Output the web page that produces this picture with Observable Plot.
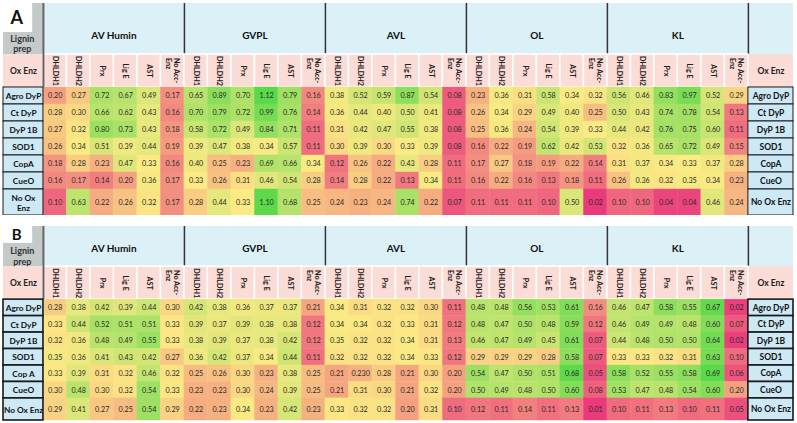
<!DOCTYPE html>
<html><head><meta charset="utf-8">
<script src="https://cdn.jsdelivr.net/npm/d3@7"></script>
<script src="https://cdn.jsdelivr.net/npm/@observablehq/plot@0.6"></script>
<style>
body{margin:0;background:#fff;font-family:Lato,sans-serif;}
#chart svg{display:block;}
</style></head><body><div id="chart"></div>
<script>
// ---------- data ----------
const lignins = ["AV Humin", "GVPL", "AVL", "OL", "KL"];
const accEnzymes = ["DHLDH1", "DHLDH2", "Prx", "Lig E", "AST", "No Acc-\nEnz"];
const oxEnzA = ["Agro DyP", "Ct DyP", "DyP 1B", "SOD1", "CopA", "CueO", "No Ox\nEnz"];
const oxEnzARight = ["Agro DyP", "Ct DyP", "DyP 1B", "SOD1", "CopA", "CueO", "No Ox Enz"];
const oxEnzB = ["Agro DyP", "Ct DyP", "DyP 1B", "SOD1", "Cop A", "CueO", "No Ox Enz"];
const oxEnzBRight = ["Agro DyP", "Ct DyP", "DyP 1B", "SOD1", "CopA", "CueO", "No Ox Enz"];

// Panel A (AV Humin | GVPL | AVL | OL | KL), 6 accessory columns each
const A_AgroDyP = [0.20,0.27,0.72,0.67,0.49,0.17, 0.65,0.89,0.70,1.12,0.79,0.16, 0.38,0.52,0.59,0.87,0.54,0.08, 0.23,0.36,0.31,0.58,0.34,0.32, 0.56,0.46,0.83,0.97,0.52,0.29];
const A_CtDyP   = [0.28,0.30,0.66,0.62,0.43,0.16, 0.70,0.79,0.72,0.99,0.76,0.14, 0.36,0.44,0.40,0.50,0.41,0.08, 0.26,0.34,0.29,0.49,0.40,0.25, 0.50,0.43,0.74,0.78,0.54,0.13];
const A_DyP1B   = [0.27,0.32,0.80,0.73,0.43,0.18, 0.58,0.72,0.49,0.84,0.71,0.11, 0.31,0.42,0.47,0.55,0.38,0.08, 0.25,0.36,0.24,0.54,0.39,0.33, 0.44,0.42,0.76,0.75,0.60,0.11];
const A_SOD1    = [0.26,0.34,0.51,0.39,0.44,0.19, 0.39,0.47,0.38,0.34,0.57,0.11, 0.30,0.39,0.30,0.33,0.39,0.08, 0.16,0.22,0.19,0.62,0.42,0.53, 0.32,0.36,0.65,0.72,0.49,0.15];
const A_CopA    = [0.18,0.28,0.23,0.47,0.33,0.16, 0.40,0.25,0.23,0.69,0.66,0.34, 0.12,0.26,0.22,0.43,0.28,0.11, 0.17,0.27,0.18,0.19,0.22,0.14, 0.31,0.37,0.34,0.33,0.37,0.28];
const A_CueO    = [0.16,0.17,0.14,0.20,0.36,0.17, 0.33,0.26,0.31,0.46,0.54,0.28, 0.14,0.28,0.22,0.13,0.34,0.11, 0.16,0.22,0.16,0.13,0.18,0.11, 0.26,0.36,0.32,0.35,0.34,0.23];
const A_NoOxEnz = [0.10,0.63,0.22,0.26,0.32,0.17, 0.28,0.44,0.33,1.10,0.68,0.25, 0.24,0.23,0.24,0.74,0.22,0.07, 0.11,0.11,0.11,0.10,0.50,0.02, 0.10,0.10,0.04,0.04,0.46,0.24];

// Panel B
const B_AgroDyP = [0.28,0.38,0.42,0.39,0.44,0.30, 0.42,0.38,0.36,0.37,0.37,0.21, 0.34,0.31,0.32,0.32,0.30,0.11, 0.48,0.48,0.56,0.53,0.61,0.16, 0.46,0.47,0.58,0.55,0.67,0.02];
const B_CtDyP   = [0.33,0.44,0.52,0.51,0.51,0.33, 0.39,0.37,0.39,0.38,0.38,0.12, 0.34,0.34,0.32,0.33,0.31,0.12, 0.48,0.47,0.50,0.48,0.59,0.12, 0.46,0.49,0.49,0.48,0.60,0.07];
const B_DyP1B   = [0.32,0.36,0.48,0.49,0.55,0.33, 0.38,0.39,0.37,0.38,0.42,0.12, 0.35,0.32,0.32,0.34,0.31,0.13, 0.46,0.47,0.49,0.45,0.61,0.07, 0.44,0.48,0.50,0.50,0.64,0.02];
const B_SOD1    = [0.35,0.36,0.41,0.43,0.42,0.27, 0.36,0.42,0.37,0.34,0.44,0.11, 0.32,0.32,0.32,0.34,0.33,0.12, 0.29,0.29,0.29,0.28,0.58,0.07, 0.33,0.33,0.32,0.31,0.63,0.10];
const B_CopA    = [0.33,0.39,0.31,0.32,0.46,0.32, 0.25,0.26,0.30,0.23,0.38,0.25, 0.21,0.23,0.28,0.21,0.30,0.20, 0.54,0.47,0.50,0.51,0.68,0.05, 0.58,0.52,0.55,0.58,0.69,0.06];
const B_CueO    = [0.30,0.48,0.30,0.32,0.54,0.33, 0.23,0.23,0.30,0.24,0.39,0.25, 0.21,0.31,0.30,0.21,0.32,0.20, 0.50,0.49,0.48,0.50,0.60,0.08, 0.53,0.47,0.48,0.54,0.60,0.20];
const B_NoOxEnz = [0.29,0.41,0.27,0.25,0.54,0.29, 0.22,0.23,0.34,0.23,0.42,0.23, 0.33,0.32,0.32,0.20,0.31,0.10, 0.12,0.11,0.14,0.11,0.13,0.01, 0.10,0.11,0.13,0.10,0.11,0.05];
// cell printed with three decimals in the source figure (row 4 = Cop A, column 13 = AVL DHLDH2)
const B_textOverrides = {"4,13": "0.230"};

// ---------- layout (column / row units) ----------
const L = 1.7, R = 1.92, N = 30, XT = L + N + R;
const FONT = "Lato, sans-serif";

function panel({letter, letterSize, letterBox, leftLabels, rightLabels, rows, weights,
                height, marginTop, marginBottom, borderW, overrides, titleFrac, prepFrac}) {
  const yE = [0];
  weights.forEach(w => yE.push(yE[yE.length - 1] + w));
  const YT = yE[yE.length - 1];
  const all = rows.flat();
  const cells = [];
  rows.forEach((row, r) => row.forEach((v, c) => cells.push({
    x1: L + c, x2: L + c + 1, y1: yE[r + 2], y2: yE[r + 3], v,
    text: (overrides && overrides[`${r},${c}`]) || v.toFixed(2)
  })));
  const cols = d3.range(N).map(c => ({x1: L + c, x2: L + c + 1, label: accEnzymes[c % 6]}));
  const sections = lignins.map((name, i) => ({name, x: L + 6 * i + 3}));
  const rowsL = leftLabels.map((t, r) => ({t, y1: yE[r + 2], y2: yE[r + 3]}));
  const rowsR = rightLabels.map((t, r) => ({t, y1: yE[r + 2], y2: yE[r + 3]}));
  const oxMid = (yE[1] + yE[2]) / 2;
  const bold = {fontFamily: FONT, fontWeight: "bold"};
  return Plot.plot({
    width: 797, height, marginTop, marginBottom, marginLeft: 3, marginRight: 4,
    x: {domain: [0, XT], axis: null},
    y: {domain: [0, YT], range: [marginTop, height - marginBottom], axis: null},
    color: {type: "linear", domain: [d3.min(all), d3.median(all), d3.max(all)],
            range: ["#ea3a7c", "#fcea84", "#5ad94a"], interpolate: "rgb"},
    style: {fontFamily: FONT, background: "white"},
    marks: [
      // lignin header row
      Plot.rect([0], {x1: L, x2: XT, y1: 0, y2: yE[1], fill: "#dcf0f8"}),
      Plot.rect([0], {x1: 0, x2: L, y1: 0, y2: yE[1], fill: "#c4c9ca"}),
      Plot.rect([0], {x1: 0, x2: L * letterBox[0], y1: 0, y2: yE[1] * letterBox[1], fill: "white"}),
      Plot.text([letter], {x: L * 0.33, y: yE[1] * letterBox[1] / 2, text: d => d, fontSize: letterSize, fill: "#111", ...bold}),
      Plot.text(["Lignin\nprep"], {x: L * 0.47, y: yE[1] * prepFrac, text: d => d, fontSize: 9, fill: "#333", lineHeight: 1.15, ...bold}),
      Plot.text(sections, {x: "x", y: yE[1] * titleFrac, text: "name", fontSize: 10, fill: "#111", ...bold}),
      Plot.ruleX(d3.range(1, 6).map(i => L + 6 * i), {x: d => d, y1: 0, y2: yE[1], stroke: "#333", strokeWidth: 1.5}),
      // ox enzyme header row
      Plot.rect([0], {x1: 0, x2: XT, y1: yE[1], y2: yE[2], fill: "#fcdcd7"}),
      Plot.rect(cols, {x1: "x1", x2: "x2", y1: yE[1], y2: yE[2], fill: "#fcdcd7", stroke: "white", strokeWidth: 1.5}),
      Plot.text(cols.filter(d => !d.label.includes("\n")), {x: d => (d.x1 + d.x2) / 2, y: oxMid, text: "label", rotate: 90, fontSize: 7.2, fill: "#222", ...bold}),
      Plot.text(cols.filter(d => d.label.includes("\n")), {x: d => (d.x1 + d.x2) / 2, y: yE[1] + 0.2, text: "label", rotate: 90, textAnchor: "start", lineHeight: 1.1, fontSize: 7.2, fill: "#222", ...bold}),
      Plot.text(["Ox Enz"], {x: L / 2, y: oxMid, text: d => d, fontSize: 8.5, fill: "#222", ...bold}),
      Plot.text(["Ox Enz"], {x: L + N + R / 2, y: oxMid, text: d => d, fontSize: 8.5, fill: "#222", ...bold}),
      Plot.ruleX([L], {x: d => d, y1: 0, y2: yE[2], stroke: "#666", strokeWidth: 2}),
      // heat cells
      Plot.rect(cells, {x1: "x1", x2: "x2", y1: "y1", y2: "y2", fill: "v", stroke: "v", strokeWidth: 0.4}),
      Plot.text(cells, {x: d => (d.x1 + d.x2) / 2, y: d => (d.y1 + d.y2) / 2, text: "text", fontSize: 7.2, fill: "#2a2a2a", fontFamily: FONT}),
      // row labels
      Plot.rect(rowsL, {x1: 0, x2: L, y1: "y1", y2: "y2", fill: "#cde9f6", stroke: "#1a1a1a", strokeWidth: borderW}),
      Plot.rect(rowsR, {x1: L + N, x2: XT, y1: "y1", y2: "y2", fill: "#cde9f6", stroke: "#1a1a1a", strokeWidth: borderW}),
      Plot.text(rowsL, {x: L / 2, y: d => (d.y1 + d.y2) / 2, text: "t", fontSize: 8.3, fill: "#111", lineHeight: 1.2, ...bold}),
      Plot.text(rowsR, {x: L + N + R / 2, y: d => (d.y1 + d.y2) / 2, text: "t", fontSize: 8.5, fill: "#111", ...bold})
    ]
  });
}

const chart = document.getElementById("chart");
chart.append(panel({
  letter: "A", letterSize: 18, letterBox: [0.73, 0.57],
  leftLabels: oxEnzA, rightLabels: oxEnzARight,
  rows: [A_AgroDyP, A_CtDyP, A_DyP1B, A_SOD1, A_CopA, A_CueO, A_NoOxEnz],
  weights: [3.0, 1.94, 1, 1, 1, 1, 1, 1, 1.53],
  height: 215, marginTop: 3, marginBottom: 0, borderW: 1, overrides: null,
  titleFrac: 0.63, prepFrac: 0.79
}));
chart.append(panel({
  letter: "B", letterSize: 15, letterBox: [0.73, 0.42],
  leftLabels: oxEnzB, rightLabels: oxEnzBRight,
  rows: [B_AgroDyP, B_CtDyP, B_DyP1B, B_SOD1, B_CopA, B_CueO, B_NoOxEnz],
  weights: [2.44, 2.0, 1, 1, 1, 1, 1, 1, 1.34],
  height: 208, marginTop: 11, marginBottom: 3, borderW: 1.6, overrides: B_textOverrides,
  titleFrac: 0.55, prepFrac: 0.74
}));
</script>
</body></html>
